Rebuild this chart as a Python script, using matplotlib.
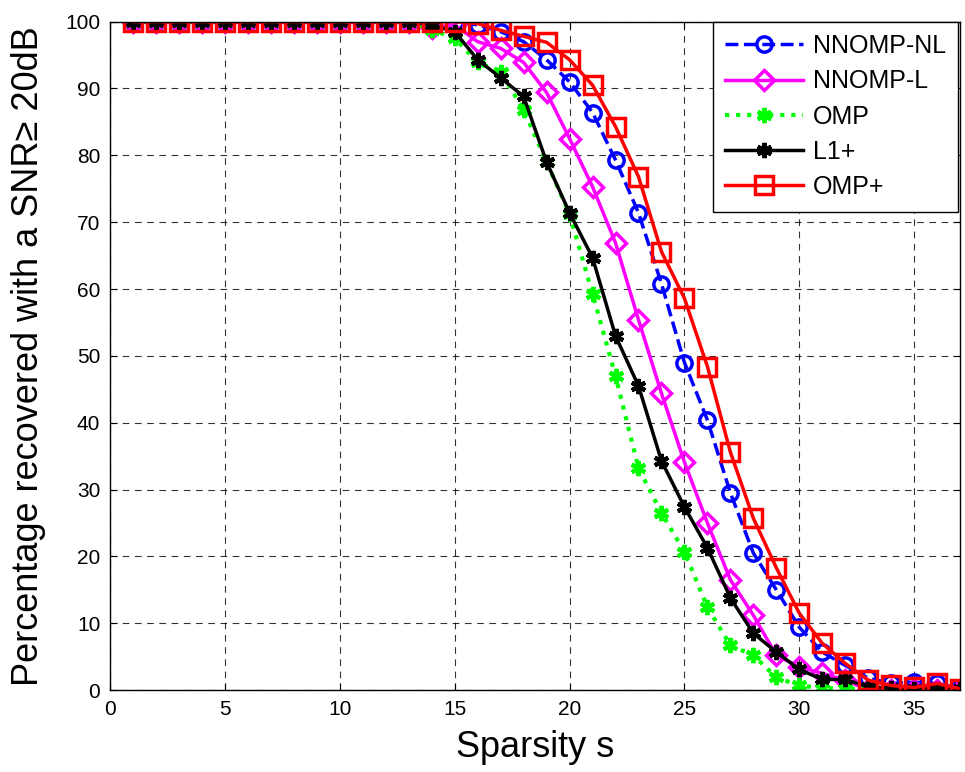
import numpy as np
from matplotlib import pyplot as plt

plt.rcParams['font.family'] = ['Liberation Sans', 'DejaVu Sans']

sparsity = list(range(1, 38))

# values (percent recovered with SNR >= 20 dB)
nnomp_nl = [100] * 15 + [99.5, 98.5, 97.0, 94.3, 91.0, 86.4, 79.3, 71.4, 60.8, 49.0,
                         40.4, 29.5, 20.5, 15.0, 9.4, 5.7, 3.7, 1.8, 1.0, 1.2, 1.0, 0.3]
nnomp_l = [100] * 13 + [99.0, 99.5, 97.0, 96.0, 93.9, 89.4, 82.5, 75.3, 66.9, 55.4, 44.4,
                        34.1, 25.0, 16.5, 11.2, 5.2, 3.5, 2.5, 1.5, 0, 0, 0, 0, 0]
omp = [100] * 13 + [98.8, 97.5, 93.9, 92.5, 86.8, 79.0, 71.2, 59.3, 47.0, 33.2, 26.5,
                    20.7, 12.4, 6.7, 5.2, 1.9, 0.7, 0.3, 0.3, 0, 0, 0, 0, 0]
l1_plus = [100] * 13 + [99.5, 98.5, 94.3, 91.6, 88.8, 79.0, 71.4, 64.7, 53.0, 45.5, 34.3,
                        27.4, 21.3, 13.8, 8.5, 5.7, 3.1, 1.6, 1.6, 0.5, 0.3, 0.2, 0.2, 0.2]
omp_plus = [100] * 15 + [99.7, 98.7, 97.8, 96.9, 94.3, 90.5, 84.3, 76.8, 65.6, 58.6,
                         48.4, 35.6, 25.7, 18.3, 11.5, 7.0, 4.0, 1.5, 0.7, 0.4, 1.0, 0.2]

fig = plt.figure(figsize=(9.65, 7.72), dpi=100)
ax = fig.add_axes([0.114, 0.106, 0.881, 0.866])

lw = 2.5
ax.plot(sparsity, nnomp_nl, color='#0000FF', ls='--', lw=lw, marker='o', ms=11,
        mfc='none', mew=2.5, label='NNOMP-NL')
ax.plot(sparsity, nnomp_l, color='#FF00FF', ls='-', lw=lw, marker='D', ms=10,
        mfc='none', mew=2.5, label='NNOMP-L')
ax.plot(sparsity, omp, color='#00FF00', ls=':', lw=3, marker=(6, 2, 0), ms=11,
        mew=3, label='OMP')
ax.plot(sparsity, l1_plus, color='k', ls='-', lw=lw, marker=(6, 2, 0), ms=11,
        mew=3, label='L1+')
ax.plot(sparsity, omp_plus, color='#FF0000', ls='-', lw=lw, marker='s', ms=13,
        mfc='none', mew=2.5, label='OMP+')

ax.set_xlim(0, 37)
ax.set_ylim(0, 100)
ax.set_xticks(np.arange(0, 36, 5))
ax.set_yticks(np.arange(0, 101, 10))
ax.tick_params(direction='in', top=True, right=True, labelsize=15, length=5, pad=7)
ax.grid(True, color='k', ls=(0, (6, 5)), lw=0.8, alpha=0.8)
for s in ax.spines.values():
    s.set_linewidth(1)

ax.set_xlabel('Sparsity s', fontsize=26, labelpad=8)
ax.set_ylabel('Percentage recovered with a SNR\u2265 20dB', fontsize=26, labelpad=14)

leg = ax.legend(loc='upper right', bbox_to_anchor=(0.998, 1.0), fontsize=18,
                handlelength=3.1, handletextpad=0.4, fancybox=False, edgecolor='k',
                framealpha=1, borderaxespad=0, labelspacing=0.45, borderpad=0.5)
leg.get_frame().set_linewidth(1)

fig.savefig('out.png', dpi=100)
